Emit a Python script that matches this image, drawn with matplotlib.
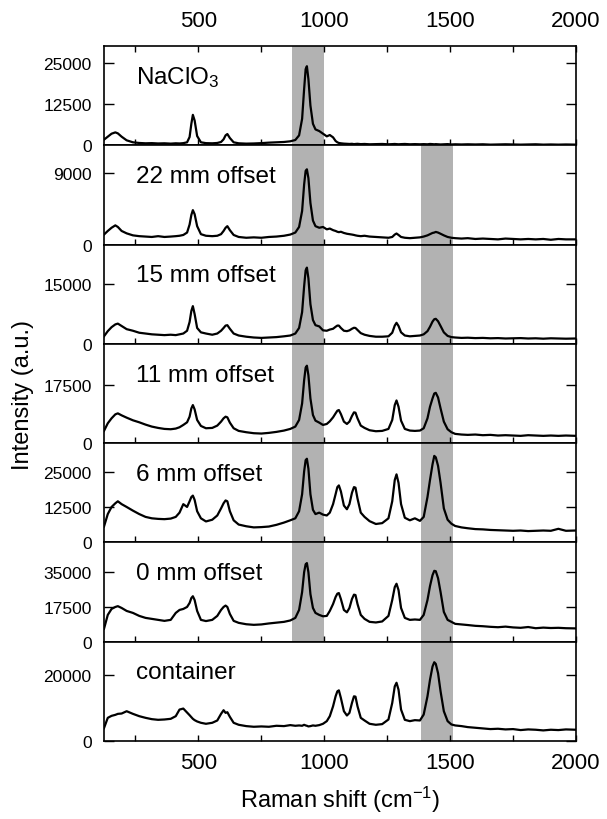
import matplotlib
matplotlib.use("Agg")
import matplotlib.pyplot as plt
from matplotlib.ticker import MultipleLocator, FormatStrFormatter

plt.rcParams['font.family'] = ['Liberation Sans', 'DejaVu Sans']
plt.rcParams['mathtext.default'] = 'regular'

# Raman shift axis (cm^-1), shared by all spectra
shift_cm = [125, 140, 155, 170, 180, 195, 215, 240, 265, 290,
            315, 340, 365, 390, 410, 425, 440, 455, 465, 472,
            478, 485, 495, 510, 530, 555, 575, 590, 600, 608,
            615, 625, 640, 660, 690, 720, 750, 780, 810, 840,
            865, 885, 900, 912, 920, 926, 931, 937, 945, 955,
            965, 980, 995, 1010, 1022, 1035, 1045, 1052, 1058, 1066,
            1078, 1090, 1100, 1110, 1118, 1124, 1132, 1145, 1160, 1180,
            1205, 1230, 1255, 1270, 1280, 1287, 1295, 1305, 1320, 1340,
            1360, 1380, 1395, 1410, 1420, 1430, 1437, 1443, 1452, 1462,
            1475, 1490, 1505, 1520, 1545, 1570, 1600, 1630, 1660, 1690,
            1720, 1750, 1780, 1810, 1840, 1870, 1900, 1930, 1960, 2000]

naclo3 = [1700, 2600, 3500, 3900, 3600, 2600, 1500, 900, 700, 600,
          650, 550, 600, 500, 600, 550, 650, 900, 2500, 6500,
          9200, 7500, 2800, 900, 650, 600, 700, 1000, 1800, 3000,
          3400, 2200, 900, 600, 500, 550, 650, 800, 900, 1000,
          1200, 1600, 3000, 8000, 17000, 23000, 23900, 20000, 12000, 6500,
          4800, 4300, 3500, 2700, 3100, 2400, 1300, 900, 700, 600,
          500, 450, 400, 450, 350, 400, 450, 350, 400, 300,
          350, 400, 300, 350, 400, 350, 300, 350, 400, 300,
          350, 300, 350, 300, 400, 350, 300, 350, 300, 250,
          300, 350, 250, 300, 250, 300, 250, 300, 200, 250,
          300, 250, 200, 250, 300, 200, 250, 200, 250, 200]

offset_22mm = [1250, 1700, 2100, 2400, 2200, 1700, 1400, 1150, 1050, 1000,
               950, 1050, 950, 1000, 1050, 1100, 1200, 1500, 2500, 3700,
               4300, 3800, 2300, 1300, 1100, 1050, 1100, 1300, 1700, 2100,
               2300, 1800, 1200, 950, 850, 900, 850, 950, 1000, 1100,
               1250, 1500, 2200, 4200, 7500, 9200, 9400, 8300, 5200, 3000,
               2300, 2100, 2200, 1900, 2000, 1800, 1700, 1600, 1550, 1600,
               1450, 1350, 1300, 1250, 1200, 1150, 1100, 1050, 1100, 1000,
               950, 900, 850, 950, 1250, 1380, 1200, 950, 850, 800,
               850, 900, 1000, 1150, 1300, 1450, 1500, 1580, 1500, 1350,
               1150, 950, 850, 800, 750, 800, 700, 750, 700, 650,
               750, 700, 650, 700, 650, 700, 600, 700, 650, 650]

offset_15mm = [1900, 3200, 4200, 4900, 5100, 4500, 3700, 3300, 2800, 2600,
               2400, 2300, 2200, 2300, 2200, 2400, 2600, 3300, 5500, 8300,
               9500, 7500, 4000, 2900, 2600, 2300, 2600, 3300, 4000, 4600,
               4700, 3800, 2600, 2100, 1800, 1600, 1500, 1600, 1700, 1900,
               2100, 2600, 4000, 8000, 14500, 18500, 19200, 16500, 10000, 6000,
               4700, 4400, 3400, 3300, 3600, 3800, 4300, 4600, 4600, 4000,
               3300, 3200, 3400, 3800, 4050, 4000, 3500, 2700, 2300, 2000,
               1800, 1800, 1900, 2800, 4600, 5300, 4500, 2900, 2100, 1900,
               2000, 2100, 2400, 3200, 4300, 5600, 6200, 6300, 5700, 4500,
               2900, 2000, 1700, 1600, 1500, 1550, 1450, 1500, 1400, 1450,
               1350, 1400, 1450, 1350, 1400, 1300, 1400, 1350, 1300, 1350]

offset_11mm = [3700, 6000, 7500, 8700, 9000, 8400, 7700, 6900, 6300, 5600,
               5000, 4600, 4300, 4200, 4400, 4800, 5500, 6300, 8000, 10500,
               11500, 10200, 7000, 5200, 4500, 4600, 5300, 6500, 7500, 8000,
               7800, 6200, 4500, 3700, 3300, 3000, 2900, 3100, 3400, 3800,
               4300, 5000, 7000, 12000, 19000, 22800, 23400, 20500, 13500, 8500,
               6800, 6200, 5500, 5800, 6600, 7800, 9000, 9800, 10000, 8800,
               6500, 5800, 6500, 8200, 9300, 9200, 7500, 5300, 4600, 3900,
               3600, 3700, 4300, 7000, 11500, 12900, 11000, 6800, 4300, 3800,
               3700, 3800, 4500, 7500, 11000, 13500, 15000, 15200, 13800, 10500,
               6500, 4200, 3300, 2800, 2600, 2500, 2600, 2400, 2500, 2300,
               2400, 2300, 2200, 2400, 2300, 2200, 2300, 2200, 2300, 2200]

offset_6mm = [5600, 10000, 12500, 13800, 14500, 13500, 12500, 11200, 10000, 9000,
              8500, 8300, 8200, 8400, 9000, 10500, 13500, 12500, 14500, 16000,
              16500, 15000, 11000, 8500, 7400, 8000, 9500, 12000, 13800, 14800,
              14500, 11000, 7800, 6300, 5700, 5300, 5400, 5600, 6200, 7000,
              7800, 8500, 11000, 17000, 25000, 29000, 29500, 26000, 17000, 11500,
              10000, 10500, 9800, 9500, 10500, 13500, 17000, 19500, 20100, 18000,
              13000, 11700, 13500, 17500, 19500, 19300, 15500, 10500, 9000, 7500,
              6500, 6800, 8500, 14500, 22000, 24000, 21000, 13500, 8700, 7800,
              8500, 7600, 9000, 16000, 22000, 27500, 30500, 30000, 27000, 21000,
              12000, 8000, 6600, 5800, 5300, 5000, 4700, 4600, 4400, 4300,
              4200, 4100, 4200, 4000, 4100, 4200, 4100, 4800, 4100, 4200]

offset_0mm = [6500, 13500, 16500, 17500, 17900, 17000, 15500, 14500, 13000, 12000,
              11500, 11000, 10500, 11000, 14500, 16000, 16500, 17500, 19500, 22000,
              22900, 21000, 15500, 11000, 10400, 11000, 13000, 16000, 17500, 18200,
              17500, 14000, 10500, 9500, 8800, 8500, 8700, 9200, 9600, 10000,
              10700, 12000, 16000, 25000, 35000, 39000, 39600, 35000, 24000, 17000,
              14500, 13500, 12800, 13000, 15500, 19000, 22500, 24200, 24500, 21500,
              16000, 14800, 17000, 21500, 23700, 23500, 19000, 13500, 11500, 10000,
              9700, 10200, 13000, 21000, 27500, 29200, 26000, 17000, 12000, 11000,
              11200, 11000, 13500, 21000, 28000, 33500, 35700, 35500, 32000, 25000,
              15000, 11000, 10000, 9000, 8700, 8400, 8000, 7800, 7500, 7300,
              7600, 7200, 7000, 7400, 6800, 7100, 6900, 7000, 6800, 6700]

container = [3900, 7000, 7600, 7900, 8200, 8300, 9000, 8200, 7500, 7000,
             6600, 6400, 6500, 6700, 7500, 9500, 9800, 8600, 7800, 7200,
             6700, 6300, 5900, 5500, 5200, 5500, 6200, 8200, 9300, 8500,
             8700, 7300, 5500, 4900, 4500, 4300, 4400, 4300, 4600, 4500,
             4800, 4600, 4700, 4600, 4900, 4700, 4600, 4400, 4500, 4700,
             4600, 4800, 5200, 6000, 7500, 10500, 13500, 15000, 15300, 13000,
             9000, 7700, 8500, 11500, 13500, 13400, 10500, 7000, 6200, 5200,
             4900, 5100, 6500, 11500, 16500, 17600, 15500, 9500, 6400, 6000,
             6300, 6200, 8000, 13500, 18500, 22500, 23800, 23300, 20500, 15000,
             9000, 6000, 5000, 4700, 4500, 4200, 4000, 3800, 3600, 3700,
             3500, 3600, 3300, 3500, 3400, 3200, 3400, 3300, 3500, 3400]

spectra = [naclo3, offset_22mm, offset_15mm, offset_11mm,
           offset_6mm, offset_0mm, container]
panel_names = ['NaClO$_3$', '22 mm offset', '15 mm offset', '11 mm offset',
               '6 mm offset', '0 mm offset', 'container']
y_max = [30000, 12400, 25000, 30000, 35000, 50000, 30000]
y_ticks = [[0, 12500, 25000], [0, 9000], [0, 15000], [0, 17500],
           [0, 12500, 25000], [0, 17500, 35000], [0, 20000]]

# highlighted bands (cm^-1) and which panels they cover
band_chlorate = (872, 998)
band_container = (1385, 1510)
chlorate_panels = range(0, 6)
container_panels = range(1, 7)

for s in spectra:
    assert len(s) == len(shift_cm)

fig = plt.figure(figsize=(6.07, 8.20), dpi=100)
left, right, top, bottom = 104 / 607, 576 / 607, 1 - 47 / 820, 1 - 742 / 820
h = (top - bottom) / len(spectra)

axes = []
for i, (ys, name) in enumerate(zip(spectra, panel_names)):
    ax = fig.add_axes([left, top - (i + 1) * h, right - left, h])
    axes.append(ax)
    if i in chlorate_panels:
        ax.axvspan(*band_chlorate, color='#b2b2b2', lw=0, zorder=0)
    if i in container_panels:
        ax.axvspan(*band_container, color='#b2b2b2', lw=0, zorder=0)
    ax.plot(shift_cm, ys, color='black', lw=1.6, zorder=2)
    ax.set_xlim(125, 2000)
    ax.set_ylim(0, y_max[i])
    ax.set_yticks(y_ticks[i])
    ax.yaxis.set_major_formatter(FormatStrFormatter('%d'))
    ax.xaxis.set_major_locator(MultipleLocator(500))
    ax.xaxis.set_minor_locator(MultipleLocator(250))
    ax.tick_params(axis='x', which='both', direction='in', length=4, width=1,
                   bottom=True, top=(i == 0), labelbottom=(i == len(spectra) - 1),
                   labeltop=(i == 0), labelsize=16, pad=8)
    ax.tick_params(axis='y', which='major', direction='in', length=7, width=1,
                   left=True, right=True, labelsize=12.5, pad=9)
    for sp in ax.spines.values():
        sp.set_linewidth(1.2)
    ax.text(0.068, 0.63, name, transform=ax.transAxes, fontsize=17.5,
            ha='left', va='baseline')

axes[0].tick_params(axis='x', which='both', pad=11)

fig.text(23 / 607, (top + bottom) / 2, 'Intensity (a.u.)', rotation=90,
         ha='center', va='center', fontsize=17)
fig.text((left + right) / 2, 1 - 800 / 820, 'Raman shift (cm$^{-1}$)',
         ha='center', va='center', fontsize=17)

fig.savefig('out.png', dpi=100)
